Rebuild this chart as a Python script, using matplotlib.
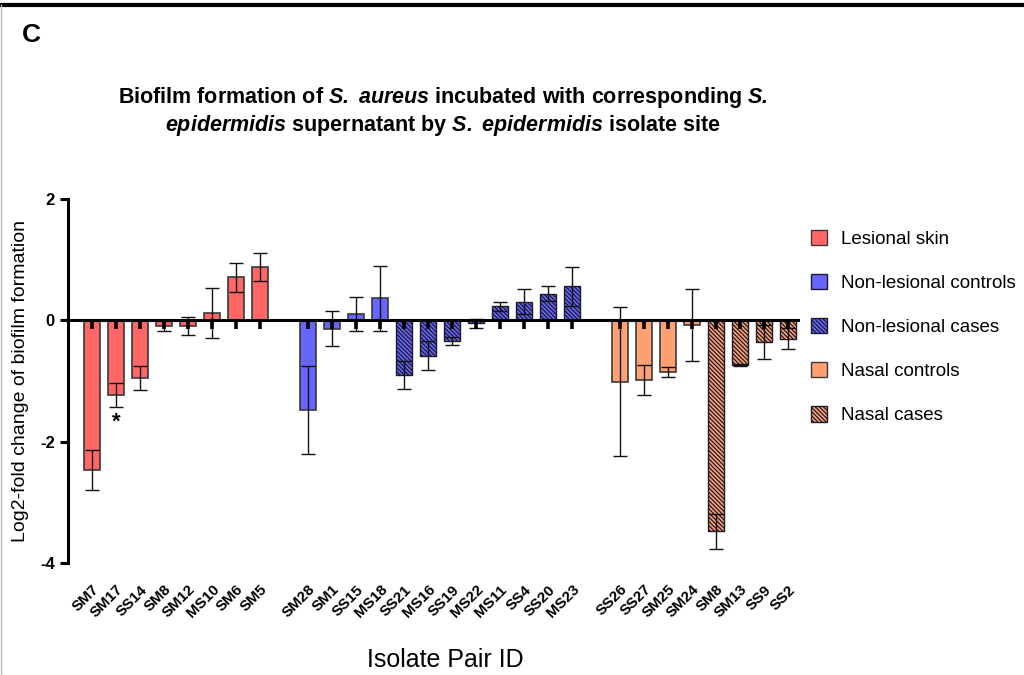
import matplotlib
matplotlib.use("Agg")
import matplotlib.pyplot as plt
from matplotlib.patches import Patch
from matplotlib.lines import Line2D

plt.rcParams["font.family"] = ["Liberation Sans", "DejaVu Sans"]
plt.rcParams["mathtext.fontset"] = "custom"
plt.rcParams["mathtext.bfit"] = "Liberation Sans:italic:bold"
plt.rcParams["mathtext.it"] = "Liberation Sans:italic"
plt.rcParams["mathtext.rm"] = "Liberation Sans"
plt.rcParams["hatch.linewidth"] = 0.9

# ---- data ----
groups = ["Lesional skin", "Non-lesional controls", "Non-lesional cases",
          "Nasal controls", "Nasal cases"]

lesional_ids = ["SM7", "SM17", "SS14", "SM8", "SM12", "MS10", "SM6", "SM5"]
lesional_mean = [-2.46, -1.23, -0.95, -0.09, -0.09, 0.12, 0.71, 0.88]
lesional_err = [0.33, 0.20, 0.20, 0.08, 0.15, 0.41, 0.24, 0.23]

nl_ctrl_ids = ["SM28", "SM1", "SS15", "MS18"]
nl_ctrl_mean = [-1.48, -0.14, 0.11, 0.36]
nl_ctrl_err = [0.73, 0.29, 0.28, 0.54]

nl_case_ids = ["SS21", "MS16", "SS19", "MS22", "MS11", "SS4", "SS20", "MS23"]
nl_case_mean = [-0.90, -0.58, -0.34, -0.05, 0.23, 0.31, 0.44, 0.56]
nl_case_err = [0.23, 0.24, 0.07, 0.08, 0.08, 0.20, 0.12, 0.32]

nasal_ctrl_ids = ["SS26", "SS27", "SM25", "SM24"]
nasal_ctrl_mean = [-1.01, -0.98, -0.85, -0.08]
nasal_ctrl_err = [1.23, 0.245, 0.085, 0.59]

nasal_case_ids = ["SM8", "SM13", "SS9", "SS2"]
nasal_case_mean = [-3.48, -0.74, -0.36, -0.30]
nasal_case_err = [0.29, 0.02, 0.28, 0.18]

RED = "#ff6666"
BLUE = "#6666ff"
ORANGE = "#ffa070"
HATCH = "\\" * 8

series = [
    (lesional_ids, lesional_mean, lesional_err, RED, None),
    (nl_ctrl_ids, nl_ctrl_mean, nl_ctrl_err, BLUE, None),
    (nl_case_ids, nl_case_mean, nl_case_err, BLUE, HATCH),
    (nasal_ctrl_ids, nasal_ctrl_mean, nasal_ctrl_err, ORANGE, None),
    (nasal_case_ids, nasal_case_mean, nasal_case_err, ORANGE, HATCH),
]
# an empty slot between the three sites
gap_after = {0: 1, 1: 0, 2: 1, 3: 0, 4: 0}

fig = plt.figure(figsize=(10.24, 6.75), dpi=100)
ax = fig.add_axes([68 / 1024, 1 - 563 / 675, (800 - 68) / 1024, (563 - 199) / 675])

pos = 0
xticks, xlabels = [], []
for i, (ids, mean, err, col, hatch) in enumerate(series):
    xs = list(range(pos, pos + len(ids)))
    if hatch:
        ax.bar(xs, mean, width=0.66, color=col, edgecolor="#1a1a2a", hatch=hatch,
               linewidth=1.0, zorder=2)
    else:
        ax.bar(xs, mean, width=0.66, color=col, edgecolor="#3a3a3a", linewidth=1.2,
               zorder=2)
    ax.errorbar(xs, mean, yerr=err, fmt="none", ecolor="#111111", elinewidth=1.0,
                capsize=5.2, capthick=1.0, zorder=3)
    ax.vlines(xs, 0, -0.15, color="black", linewidth=2.6, zorder=4)
    xticks += xs
    xlabels += ids
    pos += len(ids) + gap_after[i]

ax.axhline(0, color="black", linewidth=2.2, zorder=5)

# significance mark
ax.text(xticks[1], lesional_mean[1] - lesional_err[1] - 0.08, "*", ha="center",
        va="top", fontsize=16, fontweight="bold")

ax.set_xlim(-1.0, 29.5)
ax.set_ylim(-4, 2)
ax.set_yticks([2, 0, -2, -4])
ax.set_yticklabels(["2", "0", "-2", "-4"], fontweight="bold", fontsize=12)
ax.tick_params(axis="y", length=6, width=2.2, direction="out")
ax.set_xticks(xticks)
ax.set_xticklabels(xlabels, rotation=45, ha="right", rotation_mode="anchor",
                   fontweight="bold", fontsize=11)
ax.tick_params(axis="x", length=0, pad=14)
for s in ["top", "right", "bottom"]:
    ax.spines[s].set_visible(False)
ax.spines["left"].set_linewidth(2.2)

ax.set_ylabel("Log2-fold change of biofilm formation", fontsize=14, labelpad=8)
fig.text(445 / 1024, 1 - 660 / 675, "Isolate Pair ID", ha="center", va="center",
         fontsize=18)

fig.text(443 / 1024, 1 - 97 / 675,
         r"Biofilm formation of $\mathbfit{S.\ aureus}$ incubated with corresponding $\mathbfit{S.}$",
         ha="center", va="center", fontsize=15.5, fontweight="bold")
fig.text(443 / 1024, 1 - 125 / 675,
         r"$\mathbfit{epidermidis}$ supernatant by $\mathbfit{S.\ epidermidis}$ isolate site",
         ha="center", va="center", fontsize=15.5, fontweight="bold")

fig.text(22 / 1024, 1 - 35 / 675, "C", fontsize=19, fontweight="bold", va="center")
fig.add_artist(Line2D([0, 1], [1 - 5 / 675, 1 - 5 / 675], color="black", linewidth=3))
fig.add_artist(Line2D([1 / 1024, 1 / 1024], [0, 1 - 5 / 675], color="#bbbbbb",
                      linewidth=1))

handles = [
    Patch(facecolor=RED, edgecolor="#3a3a3a"),
    Patch(facecolor=BLUE, edgecolor="#1a1a2a"),
    Patch(facecolor=BLUE, edgecolor="#1a1a2a", hatch=HATCH),
    Patch(facecolor=ORANGE, edgecolor="#3a3a3a"),
    Patch(facecolor=ORANGE, edgecolor="#1a1a2a", hatch=HATCH),
]
fig.legend(handles, groups, loc="upper left", bbox_to_anchor=(803 / 1024, 1 - 222 / 675),
           frameon=False, fontsize=13.5, handlelength=0.9, handleheight=0.9,
           labelspacing=1.38, handletextpad=0.75, borderaxespad=0)

fig.savefig("out.png", dpi=100)
